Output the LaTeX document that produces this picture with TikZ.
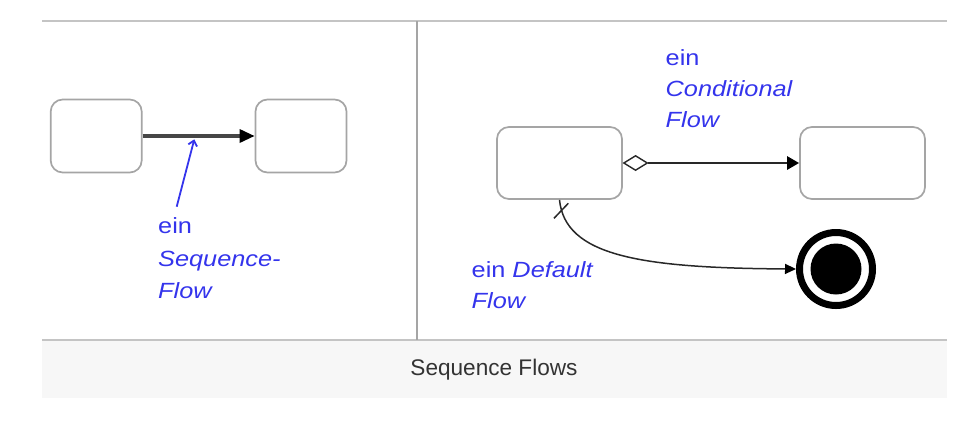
\documentclass[tikz,border=0pt]{standalone}
\usepackage{fontspec}
\usetikzlibrary{arrows.meta,shapes.geometric}
\newfontfamily\lab[FakeStretch=1.15]{Liberation Sans}
\newfontfamily\capfont{Liberation Sans}
\definecolor{labblue}{RGB}{52,52,236}
\definecolor{boxgray}{RGB}{165,165,165}
\definecolor{sepgray}{RGB}{196,196,196}
\definecolor{capbg}{RGB}{247,247,247}
\definecolor{flowgray}{RGB}{70,70,70}
\definecolor{darkline}{RGB}{40,40,40}
\begin{document}
\begin{tikzpicture}[x=1pt,y=-1pt,
  taskbox/.style={draw=boxgray,line width=1.7pt,rounded corners=12pt,minimum width=91pt,minimum height=73pt,inner sep=0pt,fill=white},
  taskboxr/.style={taskbox,minimum width=125pt,minimum height=72pt},
  labtext/.style={text=labblue,anchor=base west,inner sep=0pt,font=\lab\fontsize{22}{32}\selectfont},
  sepline/.style={draw=sepgray,line width=2pt},
  flowthick/.style={draw=flowgray,line width=3.2pt,-{Triangle[length=15pt,width=13pt,color=black]}},
  condflow/.style={draw=darkline,line width=2.6pt,-{Triangle[length=12pt,width=13pt,color=black]}},
  defflow/.style={draw=darkline,line width=1.5pt,-{Triangle[length=11pt,width=10pt,color=black]}},
  bluearrow/.style={draw=labblue,line width=1.8pt,-{Straight Barb[length=5pt,width=9pt]}}
]
\useasboundingbox (0,0) rectangle (968,424);
% frame
\fill[capbg] (42,340) rectangle (946.5,397.7);
\draw[sepline] (42,21) -- (946.5,21);
\draw[sepline] (42,340) -- (946.5,340);
\draw[draw=boxgray,line width=2pt] (417.3,21) -- (417.3,340);
\node[anchor=base,inner sep=0pt,text={rgb,255:red,51;green,51;blue,51},font=\capfont\fontsize{22.6}{26}\selectfont] (cap) at (494,375.7) {Sequence Flows};

% left panel
\node[taskbox] (A) at (96.2,136) {};
\node[taskbox] (B) at (301,136) {};
\draw[flowthick] (A.east) -- (B.west);
\coordinate (seqtip) at (194.3,139.3);
\coordinate (seqtail) at (176.7,206.7);
\draw[bluearrow] (seqtail) -- (seqtip);
\node[labtext] (l1) at (158,233.5) {ein};
\node[labtext] (l2) at (158,266.5) {\itshape Sequence-};
\node[labtext] (l3) at (158,298.5) {\itshape Flow};

% right panel
\node[taskboxr] (C) at (559.5,163) {};
\node[taskboxr] (D) at (862.5,163) {};
\node[diamond,draw=darkline,line width=1.4pt,fill=white,minimum width=24pt,minimum height=15pt,inner sep=0pt,anchor=west] (dia) at (C.east) {};
\draw[condflow] (dia.east) -- (D.west);

\node[circle,draw=black,line width=7pt,fill=white,minimum size=73pt,inner sep=0pt] (end) at (836,269) {};
\node[circle,fill=black,minimum size=51pt,inner sep=0pt] (endin) at (end.center) {};
\draw[defflow] (C.south) .. controls +(5.5,56) and +(-156,-1) .. (end.west);
\coordinate (sl1) at (554,218.3);
\coordinate (sl2) at (568.3,203.3);
\draw[draw=darkline,line width=1.5pt] (sl1) -- (sl2);

\node[labtext] (c1) at (665.5,65) {ein};
\node[labtext] (c2) at (665.5,96) {\itshape Conditional};
\node[labtext] (c3) at (665.5,127) {\itshape Flow};
\node[labtext] (d1) at (471.5,277.3) {ein \itshape Default};
\node[labtext] (d2) at (471.5,308.3) {\itshape Flow};
\end{tikzpicture}
\end{document}
